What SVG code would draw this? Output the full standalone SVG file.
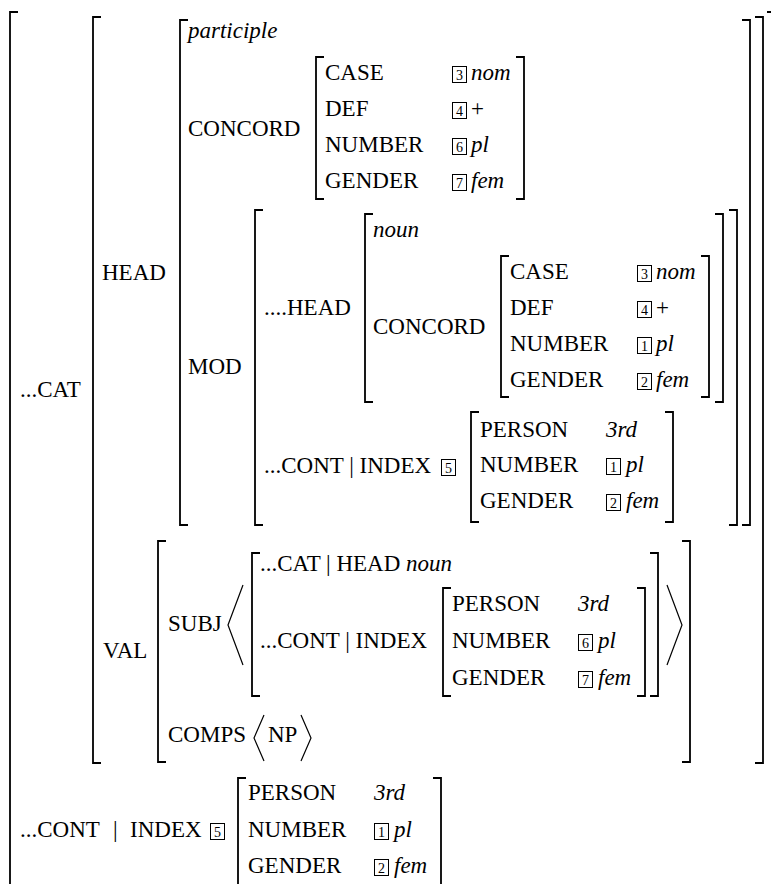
<svg xmlns="http://www.w3.org/2000/svg" width="771" height="884" viewBox="0 0 771 884" font-family="'Liberation Serif', 'Times New Roman', Times, serif">
<style>
text{font-family:'Liberation Serif','Times New Roman',Times,serif;font-size:23px;fill:#000}
.i{font-style:italic}
.b{fill:none;stroke:#000;stroke-width:1.8}
.a{fill:none;stroke:#000;stroke-width:1.2}
.bx{fill:none;stroke:#000;stroke-width:1}
.n{font-size:14px;text-anchor:middle}
</style>
<rect width="771" height="884" fill="#fff"/>
<defs>
<g id="t1"><rect class="bx" x="0.5" y="-13.5" width="14" height="16"/><text class="n" x="7.5" y="-0.5">1</text></g>
<g id="t2"><rect class="bx" x="0.5" y="-13.5" width="14" height="16"/><text class="n" x="7.5" y="-0.5">2</text></g>
<g id="t3"><rect class="bx" x="0.5" y="-13.5" width="14" height="16"/><text class="n" x="7.5" y="-0.5">3</text></g>
<g id="t4"><rect class="bx" x="0.5" y="-13.5" width="14" height="16"/><text class="n" x="7.5" y="-0.5">4</text></g>
<g id="t5"><rect class="bx" x="0.5" y="-13.5" width="14" height="16"/><text class="n" x="7.5" y="-0.5">5</text></g>
<g id="t6"><rect class="bx" x="0.5" y="-13.5" width="14" height="16"/><text class="n" x="7.5" y="-0.5">6</text></g>
<g id="t7"><rect class="bx" x="0.5" y="-13.5" width="14" height="16"/><text class="n" x="7.5" y="-0.5">7</text></g>
</defs>

<g id="outer">
<path class="b" d="M18,12 H10 V900"/>
<path class="b" d="M767,12 H772 V900"/>
<text x="20" y="397">...CAT</text>
</g>

<g id="cat">
<path class="b" d="M101,17 H93 V763 H101"/>
<path class="b" d="M755,17 H763 V763 H755"/>
<text x="102" y="280">HEAD</text>
<text x="103" y="658">VAL</text>
</g>

<g id="head">
<path class="b" d="M188,20 H180 V525 H188"/>
<path class="b" d="M742,20 H750 V525 H742"/>
<text class="i" x="188" y="38">participle</text>
<text x="188" y="136">CONCORD</text>
<text x="188" y="374">MOD</text>
</g>

<g id="concord1">
<path class="b" d="M324,57 H316 V199 H324"/>
<path class="b" d="M516,57 H524 V199 H516"/>
<text x="325" y="80">CASE</text>
<text x="325" y="116">DEF</text>
<text x="325" y="152">NUMBER</text>
<text x="325" y="188">GENDER</text>
<use href="#t3" x="452" y="80"/><text class="i" x="471" y="80">nom</text>
<use href="#t4" x="452" y="116"/><text x="471" y="116">+</text>
<use href="#t6" x="452" y="152"/><text class="i" x="471" y="152">pl</text>
<use href="#t7" x="452" y="188"/><text class="i" x="471" y="188">fem</text>
</g>

<g id="mod">
<path class="b" d="M263,210 H255 V525 H263"/>
<path class="b" d="M729,210 H737 V525 H729"/>
<text x="264" y="315">....HEAD</text>
<text x="264" y="473">...CONT | INDEX</text>
<use href="#t5" x="441" y="473"/>
</g>

<g id="modhead">
<path class="b" d="M373,214 H365 V402 H373"/>
<path class="b" d="M715,214 H723 V402 H715"/>
<text class="i" x="373" y="237">noun</text>
<text x="373" y="334">CONCORD</text>
</g>

<g id="concord2">
<path class="b" d="M509,256 H501 V397 H509"/>
<path class="b" d="M701,256 H709 V397 H701"/>
<text x="510" y="279">CASE</text>
<text x="510" y="315">DEF</text>
<text x="510" y="351">NUMBER</text>
<text x="510" y="387">GENDER</text>
<use href="#t3" x="637" y="279"/><text class="i" x="656" y="279">nom</text>
<use href="#t4" x="637" y="315"/><text x="656" y="315">+</text>
<use href="#t1" x="637" y="351"/><text class="i" x="656" y="351">pl</text>
<use href="#t2" x="637" y="387"/><text class="i" x="656" y="387">fem</text>
</g>

<g id="modindex">
<path class="b" d="M479,412 H471 V522 H479"/>
<path class="b" d="M665,412 H673 V522 H665"/>
<text x="480" y="437">PERSON</text>
<text x="480" y="472">NUMBER</text>
<text x="480" y="508">GENDER</text>
<text class="i" x="606" y="437">3rd</text>
<use href="#t1" x="606" y="472"/><text class="i" x="626" y="472">pl</text>
<use href="#t2" x="606" y="508"/><text class="i" x="626" y="508">fem</text>
</g>

<g id="val">
<path class="b" d="M166,541 H158 V762 H166"/>
<path class="b" d="M682,541 H690 V762 H682"/>
<text x="168" y="631">SUBJ</text>
<path class="a" d="M243,585 L228,625 L243,665"/>
<path class="a" d="M667,585 L682,625 L667,665"/>
<text x="168" y="742">COMPS</text>
<path class="a" d="M264,715 L254,738 L264,761"/>
<text x="268" y="742">NP</text>
<path class="a" d="M301,715 L311,738 L301,761"/>
</g>

<g id="subj">
<path class="b" d="M260,553 H252 V696 H260"/>
<path class="b" d="M650,553 H658 V696 H650"/>
<text x="260" y="571">...CAT | HEAD <tspan class="i">noun</tspan></text>
<text x="260" y="648">...CONT | INDEX</text>
</g>

<g id="subjindex">
<path class="b" d="M451,588 H443 V696 H451"/>
<path class="b" d="M637,588 H645 V696 H637"/>
<text x="452" y="611">PERSON</text>
<text x="452" y="648">NUMBER</text>
<text x="452" y="685">GENDER</text>
<text class="i" x="578" y="611">3rd</text>
<use href="#t6" x="578" y="648"/><text class="i" x="598" y="648">pl</text>
<use href="#t7" x="578" y="685"/><text class="i" x="598" y="685">fem</text>
</g>

<g id="cont">
<text x="20" y="837">...CONT</text>
<text x="113" y="837">|</text>
<text x="130" y="837">INDEX</text>
<use href="#t5" x="210" y="837"/>
</g>

<g id="contindex">
<path class="b" d="M246,778 H238 V900"/>
<path class="b" d="M433,778 H441 V900"/>
<text x="248" y="800">PERSON</text>
<text x="248" y="837">NUMBER</text>
<text x="248" y="873">GENDER</text>
<text class="i" x="374" y="800">3rd</text>
<use href="#t1" x="374" y="837"/><text class="i" x="394" y="837">pl</text>
<use href="#t2" x="374" y="873"/><text class="i" x="394" y="873">fem</text>
</g>
</svg>
